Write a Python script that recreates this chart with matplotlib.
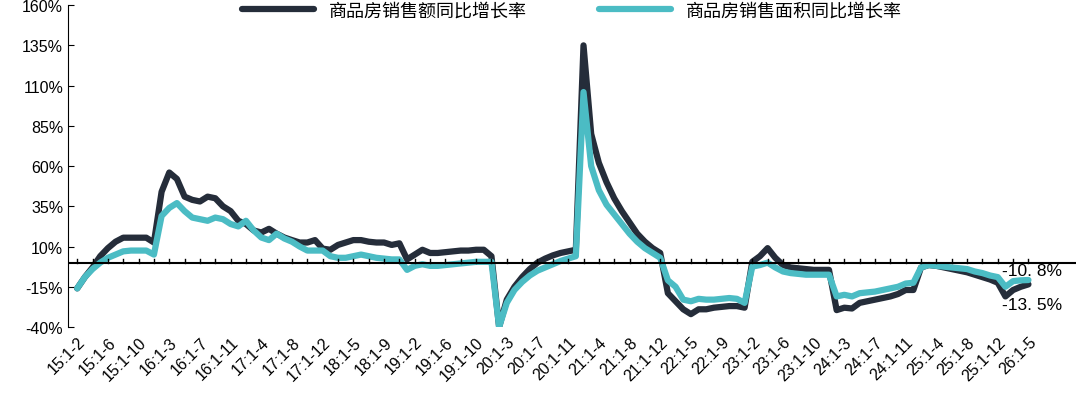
import matplotlib
matplotlib.use("Agg")
import matplotlib.pyplot as plt
import numpy as np

plt.rcParams['font.family'] = ['Liberation Sans', 'Noto Sans CJK SC', 'DejaVu Sans']

years = list(range(15, 27))
labels = []
for y in years:
    for m in range(2, 13):
        labels.append(f"{y}:1-{m}")
labels = labels[:125]

sales_amount = [
    -16, -9, -3, 4, 9, 13, 15.5, 15.5, 15.5, 15.5, 12.5,       # 2015
    44, 56, 52, 41, 39, 38, 41, 40, 35, 32, 26,                 # 2016
    24, 20, 18.7, 21, 18, 15.6, 14, 12.5, 12.5, 14, 8.7,        # 2017
    8, 11, 12.5, 14, 14, 13, 12.5, 12.5, 11, 12, 2,             # 2018
    5, 8, 6, 6, 6.5, 7, 7.5, 7.5, 8, 8, 4,                      # 2019
    -40, -23, -15, -9, -4, 0, 2.5, 4.5, 6, 7, 8,                # 2020
    135, 80, 62, 50, 40, 32, 25, 18, 13, 9, 6,                  # 2021
    -19, -24, -29, -32, -29, -29, -28, -27.5, -27, -27, -28,    # 2022
    0.5, 4, 9, 3, -1.5, -3, -3.5, -4, -4.5, -4.5, -4.5,         # 2023
    -29.5, -28, -28.5, -25, -24, -23, -22, -21, -19.5, -17, -17,  # 2024
    -3, -1.5, -2, -3, -4, -5, -6, -7.5, -9, -10.5, -12.5,       # 2025
    -21, -17, -15, -13.5,                                       # 2026
]
sales_area = [
    -16, -9, -4, 0, 3, 5, 7, 7.5, 7.5, 7.5, 5,                  # 2015
    29, 34, 37, 32, 28, 27, 26, 28, 27, 24, 22.5,               # 2016
    26, 20, 15.6, 14, 18, 15, 13, 10, 7.5, 7.5, 7.5,            # 2017
    4, 3, 3, 4, 5, 4, 3, 2.5, 2, 2, -4.5,                       # 2018
    -2, -1, -2, -2, -1.5, -1, -0.5, 0, 0.5, 0.5, 0.5,           # 2019
    -40, -25, -17, -12, -8, -5, -3, -1, 1, 2.5, 4,              # 2020
    106, 60, 45, 36, 30, 24, 18, 13, 9, 6, 3,                   # 2021
    -11, -15, -23, -24, -22.5, -23, -23, -22.5, -22, -22.5, -25,  # 2022
    -2.5, -1.5, 0, -3, -5.5, -6.5, -7, -7.5, -7.5, -7.5, -7.5,  # 2023
    -21, -20, -21, -19, -18.5, -18, -17, -16, -15, -13, -12.5,  # 2024
    -3, -1.5, -2, -2.5, -3, -3.5, -4, -5.5, -6.5, -8, -9,       # 2025
    -15, -11.5, -11, -10.8,                                     # 2026
]

x = np.arange(len(labels))
fig = plt.figure(figsize=(10.76, 4.10), dpi=100)
ax = fig.add_axes([68/1076, 0.2, 1 - 68/1076, 0.785])
ax.plot(x, sales_amount, color='#252d3a', lw=4.5, label='商品房销售额同比增长率', solid_capstyle='round')
ax.plot(x, sales_area, color='#4bbcc4', lw=4.5, label='商品房销售面积同比增长率', solid_capstyle='round')

ax.set_ylim(-40, 160)
ax.set_xlim(-1.2, 130.2)
yt = [-40, -15, 10, 35, 60, 85, 110, 135, 160]
ax.set_yticks(yt)
ax.set_yticklabels([f"{v}%" for v in yt], fontsize=11.5)
ax.set_xticks(x[::4])
ax.set_xticklabels(labels[::4], rotation=45, ha='right', rotation_mode='anchor', fontsize=11.5)
ax.tick_params(axis='x', length=0, pad=5)
ax.tick_params(axis='y', direction='in', length=4)
for s in ['top', 'right', 'bottom']:
    ax.spines[s].set_visible(False)
ax.axhline(0, color='black', lw=1.5)
for xi in x[::2]:
    ax.plot([xi, xi], [0, 2], color='black', lw=1)
ax.text(120.5, -5, '-10. 8%', fontsize=12.5, va='center')
ax.text(120.5, -26, '-13. 5%', fontsize=12.5, va='center')
ax.legend(loc='upper center', bbox_to_anchor=(0.5, 1.06), ncol=2, frameon=False, fontsize=13, handlelength=4, columnspacing=4)
fig.savefig('out.png', dpi=100)
